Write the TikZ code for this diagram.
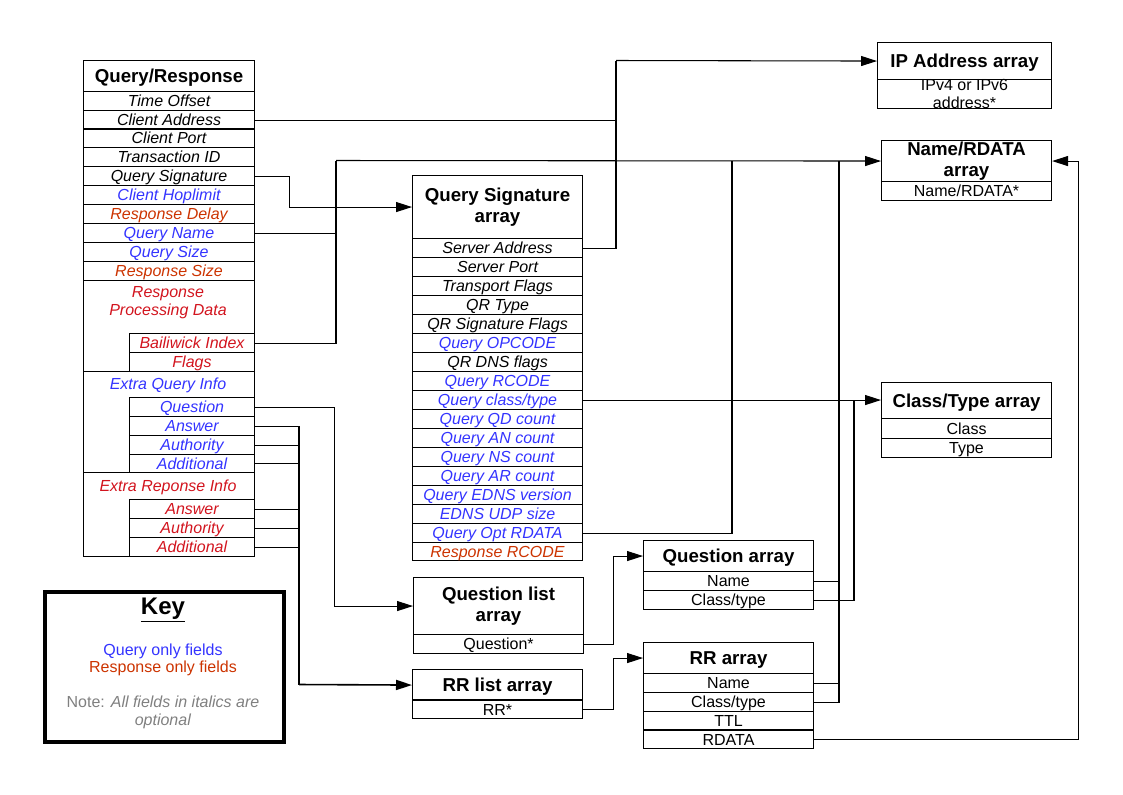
\documentclass[tikz,border=0pt]{standalone}
\usepackage{fontspec}
\setmainfont{Liberation Sans}
\usetikzlibrary{arrows.meta}
\definecolor{qblue}{RGB}{51,51,255}
\definecolor{rorange}{RGB}{204,51,0}
\definecolor{rred}{RGB}{210,20,30}
\definecolor{notegrey}{RGB}{128,128,128}

\begin{document}
\begin{tikzpicture}[x=0.75pt, y=-0.75pt,
        cell/.style 2 args={draw, line width=0.8pt, anchor=north west, inner sep=0pt, align=center,
            minimum width=#1*0.75pt, minimum height=#2*0.75pt},
        fldm/.style={font=\fontsize{12}{13.5}\selectfont\itshape, align=center},
        recm/.style={font=\fontsize{12}{13.5}\selectfont, align=center},
        headm/.style={font=\fontsize{14}{16}\selectfont\bfseries, align=center},
        fld/.style={fldm, text height=8.6pt, text depth=0pt},
        rec/.style={recm, text height=8.6pt, text depth=0pt},
        head/.style={headm, text height=10pt, text depth=0pt},
        conn/.style={line width=0.8pt},
        arr/.style={line width=0.8pt, -{Triangle[length=12pt, width=7.5pt]}},
        sep/.style={line width=1.8pt}]
        \useasboundingbox (0,0) rectangle (1123,794);
        %\draw [help lines] (0,0) grid[step=50] (1123,794);

        % Query/Response
        \node [cell={171}{31}, head] (qrHead) at (83,60) {Query/Response};
        \node [cell={171}{19}, fld] (qrTime) at (83,91) {Time Offset};
        \node [cell={171}{19}, fld] (qrCaddr) at (83,110) {Client Address};
        \node [cell={171}{19}, fld] (qrCport) at (83,128) {Client Port};
        \node [cell={171}{19}, fld] (qrTid) at (83,147) {Transaction ID};
        \node [cell={171}{19}, fld] (qrQsig) at (83,166) {Query Signature};
        \node [cell={171}{19}, fld, text=qblue] (qrHop) at (83,185) {Client Hoplimit};
        \node [cell={171}{19}, fld, text=rorange] (qrDelay) at (83,204) {Response Delay};
        \node [cell={171}{19}, fld, text=qblue] (qrQname) at (83,223) {Query Name};
        \node [cell={171}{19}, fld, text=qblue] (qrQsize) at (83,242) {Query Size};
        \node [cell={171}{19}, fld, text=rorange] (qrRsize) at (83,261) {Response Size};
        \node [cell={171}{91}] (qrRpd) at (83,280) {};
        \node [fldm, text=rred] (rpdLabel) at (168,303) {Response\\Processing Data};
        \node [cell={125}{19}, fld, text=rred] (qrBail) at (129,333) {Bailiwick Index};
        \node [cell={125}{19}, fld, text=rred] (qrFlags) at (129,352) {Flags};
        \node [cell={171}{101}] (qrXq) at (83,371) {};
        \node [fld, text=qblue] (xqLabel) at (168,384) {Extra Query Info};
        \node [cell={125}{19}, fld, text=qblue] (xqQuestion) at (129,397) {Question};
        \node [cell={125}{19}, fld, text=qblue] (xqAnswer) at (129,416) {Answer};
        \node [cell={125}{19}, fld, text=qblue] (xqAuthority) at (129,435) {Authority};
        \node [cell={125}{18}, fld, text=qblue] (xqAdditional) at (129,454) {Additional};
        \node [cell={171}{84}] (qrXr) at (83,472) {};
        \node [fld, text=rred] (xrLabel) at (168,486) {Extra Reponse Info};
        \node [cell={125}{19}, fld, text=rred] (xrAnswer) at (129,499) {Answer};
        \node [cell={125}{19}, fld, text=rred] (xrAuthority) at (129,518) {Authority};
        \node [cell={125}{19}, fld, text=rred] (xrAdditional) at (129,537) {Additional};

        % Query Signature array
        \node [cell={170}{63}, headm] (qsHead) at (412,175) {Query Signature\\array};
        \node [cell={170}{19}, fld] (qsSaddr) at (412,238) {Server Address};
        \node [cell={170}{19}, fld] (qsSport) at (412,257) {Server Port};
        \node [cell={170}{19}, fld] (qsTflags) at (412,276) {Transport Flags};
        \node [cell={170}{19}, fld] (qsQrtype) at (412,295) {QR Type};
        \node [cell={170}{19}, fld] (qsQrsig) at (412,314) {QR Signature Flags};
        \node [cell={170}{19}, fld, text=qblue] (qsOpcode) at (412,333) {Query OPCODE};
        \node [cell={170}{19}, fld] (qsDns) at (412,352) {QR DNS flags};
        \node [cell={170}{19}, fld, text=qblue] (qsRcode) at (412,371) {Query RCODE};
        \node [cell={170}{19}, fld, text=qblue] (qsClass) at (412,390) {Query class/type};
        \node [cell={170}{19}, fld, text=qblue] (qsQd) at (412,409) {Query QD count};
        \node [cell={170}{19}, fld, text=qblue] (qsAn) at (412,428) {Query AN count};
        \node [cell={170}{19}, fld, text=qblue] (qsNs) at (412,447) {Query NS count};
        \node [cell={170}{19}, fld, text=qblue] (qsAr) at (412,466) {Query AR count};
        \node [cell={170}{19}, fld, text=qblue] (qsEdns) at (412,485) {Query EDNS version};
        \node [cell={170}{19}, fld, text=qblue] (qsUdp) at (412,504) {EDNS UDP size};
        \node [cell={170}{19}, fld, text=qblue] (qsOpt) at (412,523) {Query Opt RDATA};
        \node [cell={170}{18}, fld, text=rorange] (qsResp) at (412,542) {Response RCODE};

        % list arrays
        \node [cell={170}{57}, headm] (qlHead) at (413,577) {Question list\\array};
        \node [cell={170}{19}, rec] (qlQuestion) at (413,634) {Question*};
        \node [cell={170}{31}, head] (rlHead) at (412,669) {RR list array};
        \node [cell={170}{18}, rec] (rlRR) at (412,700) {RR*};
        \draw [sep] (rlRR.north west) -- (rlRR.north east);

        % Question array, RR array
        \node [cell={170}{31}, head] (qaHead) at (643,540) {Question array};
        \node [cell={170}{19}, rec] (qaName) at (643,571) {Name};
        \node [cell={170}{19}, rec] (qaClass) at (643,590) {Class/type};
        \node [cell={170}{31}, head] (rrHead) at (643,642) {RR array};
        \node [cell={170}{19}, rec] (rrName) at (643,673) {Name};
        \node [cell={170}{19}, rec] (rrClass) at (643,692) {Class/type};
        \node [cell={170}{19}, rec] (rrTtl) at (643,711) {TTL};
        \node [cell={170}{18}, rec] (rrRdata) at (643,730) {RDATA};
        \draw [sep] (rrRdata.north west) -- (rrRdata.north east);

        % right hand arrays
        \node [cell={174}{37}, head] (ipHead) at (877,42) {IP Address array};
        \node [cell={174}{26}, recm] (ipAddr) at (877,79) {IPv4 or IPv6\\address*};
        \node [cell={170}{41}, headm] (nrHead) at (881,140) {Name/RDATA\\array};
        \node [cell={170}{19}, rec] (nrItem) at (881,181) {Name/RDATA*};
        \node [cell={170}{36}, head] (ctHead) at (881,382) {Class/Type array};
        \node [cell={170}{20}, rec] (ctClass) at (881,418) {Class};
        \node [cell={170}{19}, rec] (ctType) at (881,438) {Type};

        % Key
        \node [cell={239}{150}, line width=3pt] (key) at (43,590) {};
        \node [font=\fontsize{18}{20}\selectfont\bfseries] (keyTitle) at (163,610) {\underline{Key}};
        \node [rec, text=qblue] (keyQuery) at (163,650) {Query only fields};
        \node [rec, text=rorange] (keyResp) at (163,667) {Response only fields};
        \node [recm, text=notegrey] (keyNote) at (163,712) {Note: \textit{All fields in italics are}\\\textit{optional}};

        % connectors
        \coordinate (ipBus) at (616,60.5);
        \draw [conn] (qrCaddr.east) -| (ipBus);
        \draw [conn] (qsSaddr.east) -| (ipBus);
        \draw [arr] (ipBus) -- (ipHead.west);

        \draw [arr] (qrQsig.east) -- ++(34,0) |- (qsHead.west);

        \coordinate (nrBus) at (336,160.5);
        \coordinate (nrTapA) at (732,160.5);
        \coordinate (nrTapB) at (839,160.5);
        \draw [conn] (qrQname.east) -| (nrBus);
        \draw [conn] (qrBail.east) -| (nrBus);
        \draw [arr] (nrBus) -- (nrHead.west);
        \draw [conn] (qsOpt.east) -| (nrTapA);
        \draw [conn] (qaName.east) -| (nrTapB);
        \draw [conn] (rrName.east) -| (nrTapB);
        \draw [conn] (rrClass.east) -| (nrTapB);
        \draw [arr] (rrRdata.east) -- ++(264,0) |- (nrHead.east);

        \coordinate (ctBus) at (854,399.5);
        \draw [arr] (qsClass.east) -- (qsClass.east -| ctHead.west);
        \draw [conn] (qaClass.east) -| (ctBus);

        \draw [arr] (xqQuestion.east) -- ++(79,0) |- (qlHead.west);
        \coordinate (rlBus) at (299,684.5);
        \draw [conn] (xqAnswer.east) -| (rlBus);
        \draw [conn] (xqAuthority.east) -| (rlBus);
        \draw [conn] (xqAdditional.east) -| (rlBus);
        \draw [conn] (xrAnswer.east) -| (rlBus);
        \draw [conn] (xrAuthority.east) -| (rlBus);
        \draw [conn] (xrAdditional.east) -| (rlBus);
        \draw [arr, line width=1.2pt] (rlBus) -- (rlHead.west);

        \draw [arr] (qlQuestion.east) -- ++(29,0) |- (qaHead.west);
        \draw [arr] (rlRR.east) -- ++(30,0) |- (rrHead.west);
\end{tikzpicture}
\end{document}
